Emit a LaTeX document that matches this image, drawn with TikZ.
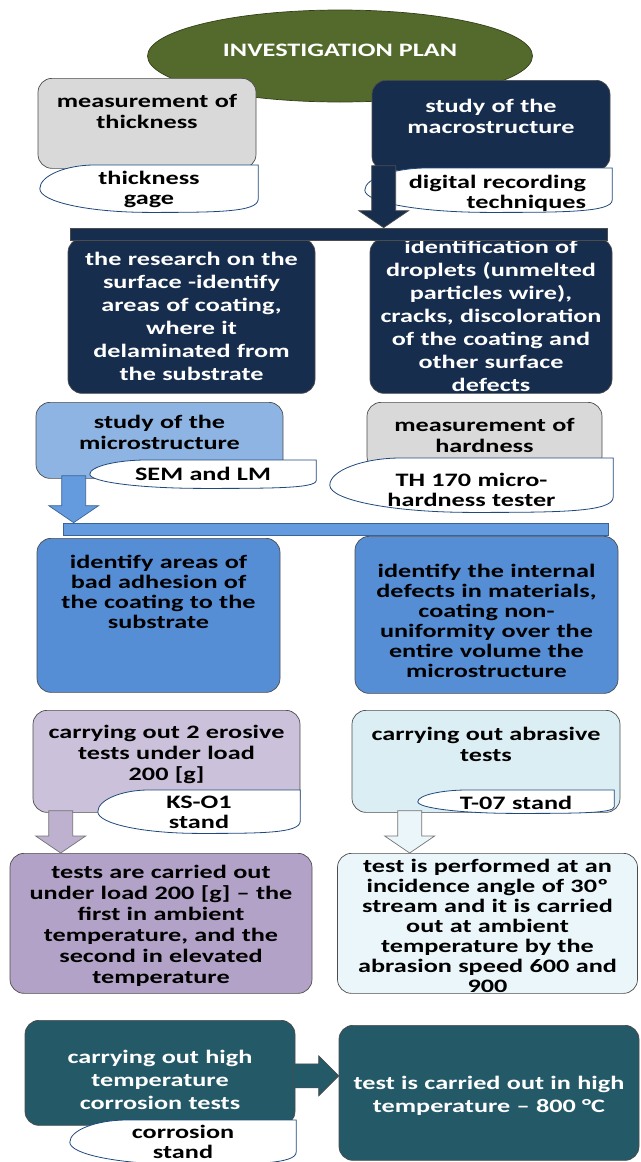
\documentclass[tikz,border=0pt]{standalone}
\usepackage{fontspec}
\newfontfamily\planfont{Carlito}[FakeStretch=1.38]
\usepackage{tikz,xcolor}
\usetikzlibrary{calc,positioning,shapes.geometric}
\pgfdeclarelayer{front}
\pgfsetlayers{main,front}

\definecolor{planolive}{RGB}{84,106,44}
\definecolor{plangray}{RGB}{217,217,217}
\definecolor{plannavy}{RGB}{23,45,78}
\definecolor{planlight}{RGB}{142,180,227}
\definecolor{planblue}{RGB}{85,142,213}
\definecolor{barblue}{RGB}{100,155,222}
\definecolor{planlilac}{RGB}{204,193,218}
\definecolor{planpurple}{RGB}{179,162,199}
\definecolor{planice}{RGB}{219,238,244}
\definecolor{planfrost}{RGB}{234,246,250}
\definecolor{planteal}{RGB}{36,89,104}
\definecolor{tagblue}{RGB}{31,73,125}

\tikzset{
    planbox/.style={ % text height/depth set where the first line sits
        draw=black!70,
        line width=0.7pt,
        rounded corners=14pt,
        anchor=north,
        inner sep=0pt,
        align=center,
        font=\planfont\bfseries\fontsize{19}{21}\selectfont
    },
    widelines/.style={font=\planfont\bfseries\fontsize{19}{23}\selectfont},
    tightlines/.style={font=\planfont\bfseries\fontsize{19}{20}\selectfont},
    tagbox/.style={
        anchor=north,
        inner sep=0pt,
        align=center,
        font=\planfont\bfseries\fontsize{19}{20}\selectfont
    },
    tagline/.style={draw=tagblue, fill=white, line width=0.8pt},
    bar/.style={draw=black!70, line width=0.7pt, inner sep=0pt, minimum height=12pt},
    blockarrow/.style={draw=black!70, line width=0.7pt, line join=miter}
}

\newcommand{\tagframe}[1]{%
    \filldraw[tagline] (#1.north east) -- ($(#1.north east)!0.72!(#1.south east)$)
        .. controls (#1.south east) and ($(#1.south west)!0.8!(#1.south east)$) .. ($(#1.south west)!0.5!(#1.south east)$)
        .. controls ($(#1.south west)!0.224!(#1.south east)$) and ($(#1.west)!0.552!(#1.south west)$) .. (#1.west)
        .. controls ($(#1.west)!0.552!(#1.north west)$) and ($(#1.north west)!0.12!(#1.north east)$) .. ($(#1.north west)!0.25!(#1.north east)$)
        -- cycle;}
\newcommand{\downblock}[3]{%
    \filldraw[blockarrow,#1] ($(#2)+(-12,0)$) -- ($(#3)+(-12,17)$) -- ($(#3)+(-25,17)$) -- (#3)
        -- ($(#3)+(25,17)$) -- ($(#3)+(12,17)$) -- ($(#2)+(12,0)$) -- cycle;}
\newcommand{\rightblock}[3]{%
    \filldraw[blockarrow,#1] ($(#2)+(0,12)$) -- ($(#3)+(-20,12)$) -- ($(#3)+(-20,20)$) -- (#3)
        -- ($(#3)+(-20,-20)$) -- ($(#3)+(-20,-12)$) -- ($(#2)+(0,-12)$) -- cycle;}

\begin{document}
\begin{tikzpicture}[x=1pt,y=1pt]
        \useasboundingbox (0,0) rectangle (640,-1162);

        \node[ellipse, draw=planolive!60!black, line width=0.7pt, fill=planolive, text=white,
            minimum width=385pt, minimum height=92pt, text height=13pt, text depth=12.5pt,
            font=\planfont\bfseries\fontsize{19}{20}\selectfont] (plan) at (340,-56) {INVESTIGATION PLAN};

        \node[planbox, fill=plangray, minimum width=218pt, text width=218pt, text height=29pt, text depth=61pt] (thick) at (147,-78) {measurement of\\thickness};
        \node[planbox, fill=plannavy, text=white, minimum width=238pt, text width=238pt, text height=32pt, text depth=58pt] (macro) at (491,-80) {study of the\\macrostructure};
        \node[planbox, widelines, fill=plannavy, text=white, minimum width=247pt, text width=247pt, text height=27pt, text depth=128pt] (surface) at (191.5,-238) {the research on the\\surface -identify\\areas of coating,\\where it\\delaminated from\\the substrate};
        \node[planbox, widelines, fill=plannavy, text=white, minimum width=242pt, text width=242pt, text height=15pt, text depth=140pt] (droplets) at (491,-238) {identification of\\droplets (unmelted\\particles wire),\\cracks, discoloration\\of the coating and\\other surface\\defects};
        \node[planbox, fill=planlight, minimum width=247pt, text width=247pt, text height=26pt, text depth=50pt] (micro) at (159.5,-402) {study of the\\microstructure};
        \node[planbox, fill=plangray, minimum width=235pt, text width=235pt, text height=29pt, text depth=39pt] (hard) at (484.5,-402) {measurement of\\hardness};
        \node[planbox, tightlines, fill=planblue, minimum width=243pt, text width=243pt, text height=30pt, text depth=124pt] (adhesion) at (158.5,-538) {identify areas of\\bad adhesion of\\the coating to the\\substrate};
        \node[planbox, tightlines, fill=planblue, minimum width=263pt, text width=263pt, text height=41pt, text depth=116pt] (internal) at (486.5,-536) {identify the internal\\defects in materials,\\coating non-\\uniformity over the\\entire volume the\\microstructure};
        \node[planbox, fill=planlilac, minimum width=267pt, text width=267pt, text height=28pt, text depth=74pt] (erosive) at (166.5,-710) {carrying out 2 erosive\\tests under load\\200 [g]};
        \node[planbox, fill=planice, minimum width=268pt, text width=268pt, text height=30pt, text depth=72pt] (abrasive) at (486,-710) {carrying out abrasive\\tests};
        \node[planbox, fill=planpurple, minimum width=302pt, text width=302pt, text height=25pt, text depth=115pt] (loadtest) at (161,-853) {tests are carried out\\under load 200 [g] – the\\first in ambient\\temperature, and the\\second in elevated\\temperature};
        \node[planbox, tightlines, fill=planfrost, minimum width=300pt, text width=300pt, text height=19pt, text depth=121pt] (angletest) at (487.5,-853) {test is performed at an\\incidence angle of 30º\\stream and it is carried\\out at ambient\\temperature by the\\abrasion speed 600 and\\900};
        \node[planbox, widelines, fill=planteal, text=white, minimum width=270pt, text width=270pt, text height=43pt, text depth=62pt] (corrosion) at (160,-1020) {carrying out high\\temperature\\corrosion tests};
        \node[planbox, widelines, fill=planteal, text=white, minimum width=300pt, text width=300pt, text height=64pt, text depth=71pt] (hightemp) at (489,-1025) {test is carried out in high\\temperature – 800 °C};

        \node[bar, fill=plannavy, minimum width=537pt] (barA) at (338.5,-234) {};
        \node[bar, fill=barblue, draw=planblue!70!black, minimum width=545pt] (barB) at (335.5,-529) {};

        \begin{pgfonlayer}{front}
        \node[tagbox, minimum width=218pt, text width=218pt, text height=19pt, text depth=28pt] (gage) at (149,-165) {thickness\\gage};
        \node[tagbox, align=right, minimum width=247pt, text width=195pt, text height=20pt, text depth=24pt] (digital) at (488.5,-168) {digital recording\\techniques};
        \node[tagbox, minimum width=226pt, text width=226pt, text height=20pt, text depth=8pt] (sem) at (203,-460) {SEM and LM};
        \node[tagbox, minimum width=283pt, text width=283pt, text height=28pt, text depth=26pt] (tester) at (471.5,-458) {TH 170 micro-\\hardness tester};
        \node[tagbox, minimum width=202pt, text width=202pt, text height=18pt, text depth=25pt] (ks) at (199,-790) {KS-O1\\stand};
        \node[tagbox, minimum width=196pt, text width=196pt, text height=19pt, text depth=4pt] (t07) at (516,-790) {T-07 stand};
        \node[tagbox, minimum width=226pt, text width=226pt, text height=18pt, text depth=26pt] (stand) at (183,-1120) {corrosion\\stand};
        \end{pgfonlayer}

        \tagframe{gage}
        \tagframe{digital}
        \tagframe{sem}
        \tagframe{tester}
        \tagframe{ks}
        \tagframe{t07}
        \tagframe{stand}

        \coordinate (a1) at ($(macro.south west)+(12,5)$);
        \coordinate (a2) at ($(micro.south west)+(38,3)$);
        \coordinate (a3) at ($(erosive.south west)+(28,2)$);
        \coordinate (a4) at ($(abrasive.south west)+(58,2)$);
        \coordinate (a5) at ($(corrosion.east)+(-2,-3)$);

        \downblock{fill=plannavy}{a1}{a1 |- barA.north}
        \downblock{fill=barblue, draw=planblue!70!black}{a2}{a2 |- barB.north}
        \downblock{fill=planpurple!85!white, draw=black!55}{a3}{a3 |- loadtest.north}
        \downblock{fill=planfrost, draw=black!55}{a4}{a4 |- angletest.north}
        \rightblock{fill=planteal}{a5}{a5 -| hightemp.west}
    \end{tikzpicture}
\end{document}
